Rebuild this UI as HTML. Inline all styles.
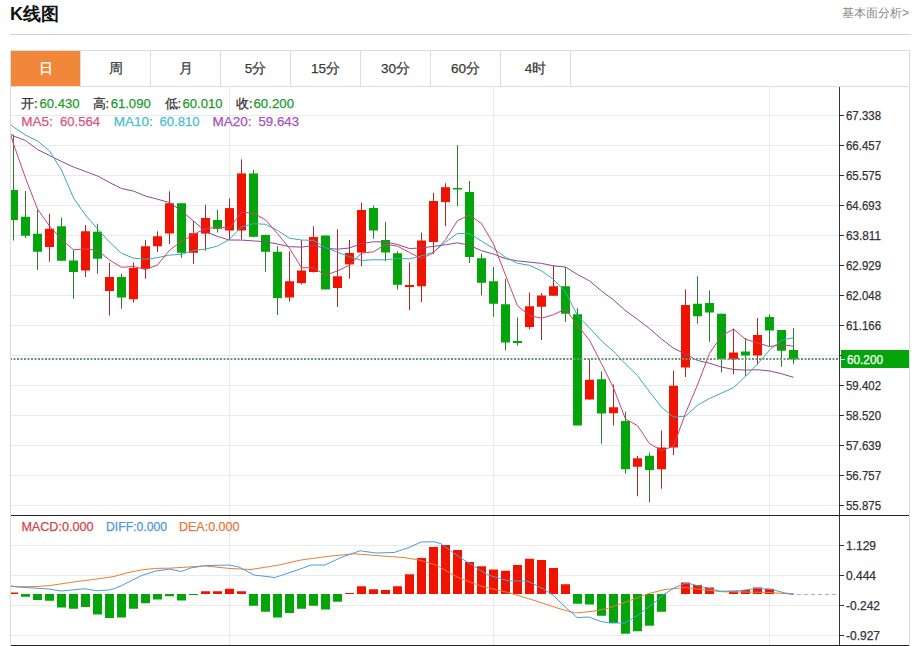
<!DOCTYPE html>
<html><head><meta charset="utf-8"><style>
html,body{margin:0;padding:0;background:#fff;width:917px;height:646px;overflow:hidden}
body{position:relative;font-family:"Liberation Sans",sans-serif}
.title{position:absolute;left:10px;top:2px;font-size:18px;font-weight:bold;color:#111;line-height:24px}
.link{position:absolute;right:8px;top:4px;font-size:12px;color:#888;line-height:18px}
svg{position:absolute;left:0;top:0}
svg text{font-family:"Liberation Sans",sans-serif}
</style></head><body>
<div class="title">K线图</div>
<div class="link">基本面分析&gt;</div>
<svg width="917" height="646" viewBox="0 0 917 646" shape-rendering="auto">
<rect x="10" y="34" width="901" height="1" fill="#d0d0d0"/>
<rect x="10.5" y="50.5" width="899" height="595" fill="none" stroke="#dcdcdc" stroke-width="1"/>
<rect x="11" y="86" width="898" height="1" fill="#dcdcdc"/>
<rect x="11" y="51" width="70" height="35" fill="#f0873a"/>
<rect x="80" y="51" width="1" height="35" fill="#dcdcdc"/>
<rect x="150" y="51" width="1" height="35" fill="#dcdcdc"/>
<rect x="220" y="51" width="1" height="35" fill="#dcdcdc"/>
<rect x="290" y="51" width="1" height="35" fill="#dcdcdc"/>
<rect x="360" y="51" width="1" height="35" fill="#dcdcdc"/>
<rect x="430" y="51" width="1" height="35" fill="#dcdcdc"/>
<rect x="500" y="51" width="1" height="35" fill="#dcdcdc"/>
<rect x="570" y="51" width="1" height="35" fill="#dcdcdc"/>
<text stroke="#ffffff" stroke-width="0.25" x="45.5" y="73.3" text-anchor="middle" font-size="13.5" fill="#ffffff">日</text>
<text stroke="#3a3a3a" stroke-width="0.25" x="115.5" y="73.3" text-anchor="middle" font-size="13.5" fill="#3a3a3a">周</text>
<text stroke="#3a3a3a" stroke-width="0.25" x="185.5" y="73.3" text-anchor="middle" font-size="13.5" fill="#3a3a3a">月</text>
<text stroke="#3a3a3a" stroke-width="0.25" x="255.5" y="73.3" text-anchor="middle" font-size="13.5" fill="#3a3a3a">5分</text>
<text stroke="#3a3a3a" stroke-width="0.25" x="325.5" y="73.3" text-anchor="middle" font-size="13.5" fill="#3a3a3a">15分</text>
<text stroke="#3a3a3a" stroke-width="0.25" x="395.5" y="73.3" text-anchor="middle" font-size="13.5" fill="#3a3a3a">30分</text>
<text stroke="#3a3a3a" stroke-width="0.25" x="465.5" y="73.3" text-anchor="middle" font-size="13.5" fill="#3a3a3a">60分</text>
<text stroke="#3a3a3a" stroke-width="0.25" x="535.5" y="73.3" text-anchor="middle" font-size="13.5" fill="#3a3a3a">4时</text>
<rect x="11" y="115" width="828" height="1" fill="#e9eaec"/>
<rect x="11" y="145" width="828" height="1" fill="#e9eaec"/>
<rect x="11" y="175" width="828" height="1" fill="#e9eaec"/>
<rect x="11" y="205" width="828" height="1" fill="#e9eaec"/>
<rect x="11" y="235" width="828" height="1" fill="#e9eaec"/>
<rect x="11" y="265" width="828" height="1" fill="#e9eaec"/>
<rect x="11" y="295" width="828" height="1" fill="#e9eaec"/>
<rect x="11" y="325" width="828" height="1" fill="#e9eaec"/>
<rect x="11" y="355" width="828" height="1" fill="#e9eaec"/>
<rect x="11" y="385" width="828" height="1" fill="#e9eaec"/>
<rect x="11" y="415" width="828" height="1" fill="#e9eaec"/>
<rect x="11" y="445" width="828" height="1" fill="#e9eaec"/>
<rect x="11" y="475" width="828" height="1" fill="#e9eaec"/>
<rect x="11" y="505" width="828" height="1" fill="#e9eaec"/>
<rect x="229" y="87" width="1" height="558" fill="#e9eaec"/>
<rect x="493" y="87" width="1" height="558" fill="#e9eaec"/>
<rect x="769" y="87" width="1" height="558" fill="#e9eaec"/>
<rect x="11" y="545" width="828" height="1" fill="#e9eaec"/>
<rect x="11" y="575" width="828" height="1" fill="#e9eaec"/>
<rect x="11" y="605" width="828" height="1" fill="#e9eaec"/>
<rect x="11" y="635" width="828" height="1" fill="#e9eaec"/>
<defs><clipPath id="cm"><rect x="11" y="87" width="828" height="428"/></clipPath><clipPath id="cd"><rect x="11" y="516" width="828" height="129"/></clipPath></defs>
<g clip-path="url(#cm)">
<rect x="13" y="134.75" width="1" height="105.75" fill="#2f7a30"/>
<rect x="9" y="190.00" width="9" height="30.00" fill="#03a50b"/>
<rect x="25" y="191.00" width="1" height="47.00" fill="#2f7a30"/>
<rect x="21" y="216.75" width="9" height="19.00" fill="#03a50b"/>
<rect x="37" y="210.00" width="1" height="60.00" fill="#2f7a30"/>
<rect x="33" y="233.75" width="9" height="18.00" fill="#03a50b"/>
<rect x="49" y="213.75" width="1" height="48.00" fill="#a42c26"/>
<rect x="45" y="228.75" width="9" height="18.25" fill="#f01400"/>
<rect x="61" y="217.50" width="1" height="43.25" fill="#2f7a30"/>
<rect x="57" y="226.25" width="9" height="34.50" fill="#03a50b"/>
<rect x="73" y="250.00" width="1" height="48.75" fill="#2f7a30"/>
<rect x="69" y="260.50" width="9" height="11.50" fill="#03a50b"/>
<rect x="85" y="225.00" width="1" height="52.00" fill="#a42c26"/>
<rect x="81" y="231.25" width="9" height="39.25" fill="#f01400"/>
<rect x="97" y="223.75" width="1" height="50.00" fill="#2f7a30"/>
<rect x="93" y="231.75" width="9" height="27.00" fill="#03a50b"/>
<rect x="109" y="262.50" width="1" height="53.00" fill="#a42c26"/>
<rect x="105" y="277.00" width="9" height="14.00" fill="#f01400"/>
<rect x="121" y="273.75" width="1" height="35.00" fill="#2f7a30"/>
<rect x="117" y="277.00" width="9" height="20.50" fill="#03a50b"/>
<rect x="133" y="262.50" width="1" height="40.00" fill="#a42c26"/>
<rect x="129" y="268.00" width="9" height="31.25" fill="#f01400"/>
<rect x="145" y="240.00" width="1" height="38.75" fill="#a42c26"/>
<rect x="141" y="246.25" width="9" height="22.50" fill="#f01400"/>
<rect x="157" y="231.25" width="1" height="20.75" fill="#a42c26"/>
<rect x="153" y="236.25" width="9" height="10.00" fill="#f01400"/>
<rect x="169" y="191.25" width="1" height="53.05" fill="#a42c26"/>
<rect x="165" y="203.25" width="9" height="30.25" fill="#f01400"/>
<rect x="181" y="203.25" width="1" height="54.55" fill="#2f7a30"/>
<rect x="177" y="203.25" width="9" height="49.55" fill="#03a50b"/>
<rect x="193" y="221.00" width="1" height="42.80" fill="#a42c26"/>
<rect x="189" y="233.20" width="9" height="19.60" fill="#f01400"/>
<rect x="205" y="204.80" width="1" height="45.90" fill="#a42c26"/>
<rect x="201" y="218.00" width="9" height="15.60" fill="#f01400"/>
<rect x="217" y="209.80" width="1" height="22.80" fill="#2f7a30"/>
<rect x="213" y="220.00" width="9" height="8.90" fill="#03a50b"/>
<rect x="229" y="198.50" width="1" height="41.40" fill="#a42c26"/>
<rect x="225" y="208.10" width="9" height="22.40" fill="#f01400"/>
<rect x="241" y="159.30" width="1" height="80.20" fill="#a42c26"/>
<rect x="237" y="173.40" width="9" height="57.10" fill="#f01400"/>
<rect x="253" y="169.90" width="1" height="67.50" fill="#2f7a30"/>
<rect x="249" y="173.40" width="9" height="63.40" fill="#03a50b"/>
<rect x="265" y="234.50" width="1" height="37.30" fill="#2f7a30"/>
<rect x="261" y="235.00" width="9" height="16.80" fill="#03a50b"/>
<rect x="277" y="246.25" width="1" height="68.75" fill="#2f7a30"/>
<rect x="273" y="251.75" width="9" height="46.35" fill="#03a50b"/>
<rect x="289" y="251.25" width="1" height="50.50" fill="#a42c26"/>
<rect x="285" y="281.25" width="9" height="16.25" fill="#f01400"/>
<rect x="301" y="240.00" width="1" height="44.30" fill="#a42c26"/>
<rect x="297" y="270.50" width="9" height="12.60" fill="#f01400"/>
<rect x="313" y="226.25" width="1" height="46.25" fill="#a42c26"/>
<rect x="309" y="237.00" width="9" height="35.00" fill="#f01400"/>
<rect x="325" y="235.50" width="1" height="53.90" fill="#2f7a30"/>
<rect x="321" y="235.50" width="9" height="53.90" fill="#03a50b"/>
<rect x="337" y="229.25" width="1" height="77.75" fill="#a42c26"/>
<rect x="333" y="276.25" width="9" height="11.75" fill="#f01400"/>
<rect x="349" y="240.00" width="1" height="38.75" fill="#a42c26"/>
<rect x="345" y="253.00" width="9" height="11.40" fill="#f01400"/>
<rect x="361" y="202.50" width="1" height="63.75" fill="#a42c26"/>
<rect x="357" y="210.00" width="9" height="42.50" fill="#f01400"/>
<rect x="373" y="205.50" width="1" height="33.25" fill="#2f7a30"/>
<rect x="369" y="208.00" width="9" height="22.50" fill="#03a50b"/>
<rect x="385" y="221.75" width="1" height="39.50" fill="#2f7a30"/>
<rect x="381" y="240.00" width="9" height="12.50" fill="#03a50b"/>
<rect x="397" y="251.25" width="1" height="38.25" fill="#2f7a30"/>
<rect x="393" y="253.25" width="9" height="31.55" fill="#03a50b"/>
<rect x="409" y="262.50" width="1" height="47.50" fill="#a42c26"/>
<rect x="405" y="285.00" width="9" height="2.00" fill="#f01400"/>
<rect x="421" y="232.50" width="1" height="69.50" fill="#a42c26"/>
<rect x="417" y="240.50" width="9" height="45.75" fill="#f01400"/>
<rect x="433" y="192.80" width="1" height="60.95" fill="#a42c26"/>
<rect x="429" y="201.00" width="9" height="41.00" fill="#f01400"/>
<rect x="445" y="183.20" width="1" height="43.05" fill="#a42c26"/>
<rect x="441" y="187.20" width="9" height="14.90" fill="#f01400"/>
<rect x="457" y="145.20" width="1" height="60.90" fill="#2f7a30"/>
<rect x="453" y="188.00" width="9" height="1.50" fill="#03a50b"/>
<rect x="469" y="181.00" width="1" height="82.00" fill="#2f7a30"/>
<rect x="465" y="192.00" width="9" height="65.00" fill="#03a50b"/>
<rect x="481" y="253.75" width="1" height="41.75" fill="#2f7a30"/>
<rect x="477" y="258.25" width="9" height="24.55" fill="#03a50b"/>
<rect x="493" y="267.00" width="1" height="49.75" fill="#2f7a30"/>
<rect x="489" y="281.25" width="9" height="22.50" fill="#03a50b"/>
<rect x="505" y="278.75" width="1" height="71.75" fill="#2f7a30"/>
<rect x="501" y="304.25" width="9" height="38.25" fill="#03a50b"/>
<rect x="517" y="317.50" width="1" height="28.00" fill="#2f7a30"/>
<rect x="513" y="341.00" width="9" height="2.00" fill="#03a50b"/>
<rect x="529" y="292.50" width="1" height="36.75" fill="#a42c26"/>
<rect x="525" y="306.25" width="9" height="20.75" fill="#f01400"/>
<rect x="541" y="293.00" width="1" height="47.00" fill="#a42c26"/>
<rect x="537" y="295.50" width="9" height="11.25" fill="#f01400"/>
<rect x="553" y="265.50" width="1" height="30.25" fill="#a42c26"/>
<rect x="549" y="286.25" width="9" height="9.50" fill="#f01400"/>
<rect x="565" y="267.00" width="1" height="55.00" fill="#2f7a30"/>
<rect x="561" y="286.25" width="9" height="27.50" fill="#03a50b"/>
<rect x="577" y="308.25" width="1" height="117.25" fill="#2f7a30"/>
<rect x="573" y="314.25" width="9" height="111.25" fill="#03a50b"/>
<rect x="589" y="358.75" width="1" height="40.75" fill="#a42c26"/>
<rect x="585" y="379.75" width="9" height="19.75" fill="#f01400"/>
<rect x="601" y="371.25" width="1" height="72.50" fill="#2f7a30"/>
<rect x="597" y="379.25" width="9" height="34.25" fill="#03a50b"/>
<rect x="613" y="384.50" width="1" height="41.00" fill="#a42c26"/>
<rect x="609" y="407.25" width="9" height="6.00" fill="#f01400"/>
<rect x="625" y="411.75" width="1" height="62.00" fill="#2f7a30"/>
<rect x="621" y="421.00" width="9" height="48.25" fill="#03a50b"/>
<rect x="637" y="455.75" width="1" height="40.50" fill="#a42c26"/>
<rect x="633" y="458.25" width="9" height="8.50" fill="#f01400"/>
<rect x="649" y="452.50" width="1" height="50.00" fill="#2f7a30"/>
<rect x="645" y="455.75" width="9" height="14.25" fill="#03a50b"/>
<rect x="661" y="430.50" width="1" height="58.25" fill="#a42c26"/>
<rect x="657" y="447.50" width="9" height="21.75" fill="#f01400"/>
<rect x="673" y="370.50" width="1" height="84.50" fill="#a42c26"/>
<rect x="669" y="385.75" width="9" height="61.75" fill="#f01400"/>
<rect x="685" y="289.50" width="1" height="87.50" fill="#a42c26"/>
<rect x="681" y="305.00" width="9" height="62.50" fill="#f01400"/>
<rect x="697" y="276.25" width="1" height="47.50" fill="#2f7a30"/>
<rect x="693" y="303.75" width="9" height="12.50" fill="#03a50b"/>
<rect x="709" y="290.50" width="1" height="51.25" fill="#2f7a30"/>
<rect x="705" y="303.00" width="9" height="9.50" fill="#03a50b"/>
<rect x="721" y="313.75" width="1" height="58.75" fill="#2f7a30"/>
<rect x="717" y="313.75" width="9" height="45.50" fill="#03a50b"/>
<rect x="733" y="328.75" width="1" height="45.50" fill="#a42c26"/>
<rect x="729" y="352.50" width="9" height="6.75" fill="#f01400"/>
<rect x="745" y="338.00" width="1" height="38.25" fill="#2f7a30"/>
<rect x="741" y="351.50" width="9" height="4.00" fill="#03a50b"/>
<rect x="757" y="318.00" width="1" height="46.50" fill="#a42c26"/>
<rect x="753" y="335.00" width="9" height="20.50" fill="#f01400"/>
<rect x="769" y="314.50" width="1" height="32.50" fill="#2f7a30"/>
<rect x="765" y="317.00" width="9" height="13.50" fill="#03a50b"/>
<rect x="781" y="330.00" width="1" height="36.75" fill="#2f7a30"/>
<rect x="777" y="330.00" width="9" height="20.75" fill="#03a50b"/>
<rect x="793" y="328.25" width="1" height="36.00" fill="#2f7a30"/>
<rect x="789" y="350.00" width="9" height="9.25" fill="#03a50b"/>
<polyline points="1.50,127.00 13.50,136.00 25.50,140.50 37.50,149.50 49.50,155.50 61.50,161.50 73.50,167.00 85.50,171.50 97.50,176.00 109.50,182.50 121.50,188.50 133.50,191.10 145.50,196.10 157.50,199.20 169.50,202.60 181.50,211.00 193.50,221.00 205.50,231.50 217.50,236.50 229.50,240.00 241.50,240.08 253.50,240.92 265.50,241.72 277.50,244.04 289.50,246.67 301.50,247.16 313.50,245.41 325.50,248.31 337.50,249.19 349.50,247.99 361.50,243.61 373.50,241.74 385.50,242.05 397.50,244.48 409.50,248.56 421.50,247.95 433.50,246.34 445.50,244.80 457.50,242.83 469.50,245.28 481.50,250.74 493.50,254.09 505.50,258.63 517.50,260.87 529.50,262.12 541.50,263.37 553.50,265.83 565.50,267.05 577.50,274.51 589.50,280.85 601.50,291.03 613.50,299.87 625.50,310.70 637.50,319.38 649.50,328.62 661.50,338.98 673.50,348.21 685.50,354.10 697.50,360.44 709.50,363.22 721.50,367.04 733.50,369.48 745.50,370.12 757.50,369.73 769.50,370.94 781.50,373.70 793.50,377.35" fill="none" stroke="#8a4a92" stroke-width="1" stroke-linejoin="round"/>
<polyline points="1.50,117.00 13.50,127.00 25.50,135.00 37.50,141.00 49.50,151.00 61.50,170.00 73.50,198.00 85.50,215.00 97.50,229.00 109.50,242.00 121.50,253.35 133.50,258.15 145.50,259.20 157.50,257.65 169.50,255.10 181.50,254.31 193.50,250.43 205.50,249.10 217.50,246.12 229.50,239.22 241.50,226.81 253.50,223.69 265.50,224.25 277.50,230.44 289.50,238.23 301.50,240.01 313.50,240.38 325.50,247.53 337.50,252.26 349.50,256.75 361.50,260.41 373.50,259.78 385.50,259.85 397.50,258.52 409.50,258.89 421.50,255.89 433.50,252.29 445.50,242.07 457.50,233.40 469.50,233.80 481.50,241.08 493.50,248.41 505.50,257.41 517.50,263.23 529.50,265.35 541.50,270.85 553.50,279.38 565.50,292.03 577.50,315.63 589.50,327.91 601.50,340.98 613.50,351.32 625.50,364.00 637.50,375.52 649.50,391.90 661.50,407.10 673.50,417.05 685.50,416.18 697.50,405.25 709.50,398.52 721.50,393.10 733.50,387.62 745.50,376.25 757.50,363.93 769.50,349.98 781.50,340.30 793.50,337.65" fill="none" stroke="#3aaab6" stroke-width="1" stroke-linejoin="round"/>
<polyline points="1.50,104.00 13.50,144.00 25.50,178.00 37.50,209.00 49.50,226.00 61.50,239.40 73.50,249.80 85.50,248.90 97.50,250.30 109.50,259.95 121.50,267.30 133.50,266.50 145.50,269.50 157.50,265.00 169.50,250.25 181.50,241.31 193.50,234.35 205.50,228.70 217.50,227.23 229.50,228.20 241.50,212.32 253.50,213.04 265.50,219.80 277.50,233.64 289.50,248.27 301.50,267.69 313.50,267.73 325.50,275.25 337.50,270.88 349.50,265.23 361.50,253.13 373.50,251.83 385.50,244.45 397.50,246.16 409.50,252.56 421.50,258.66 433.50,252.76 445.50,239.70 457.50,220.64 469.50,215.04 481.50,223.50 493.50,244.05 505.50,275.11 517.50,305.81 529.50,315.66 541.50,318.20 553.50,314.70 565.50,308.95 577.50,325.45 589.50,340.15 601.50,363.75 613.50,387.95 625.50,419.05 637.50,425.60 649.50,443.65 661.50,450.45 673.50,446.15 685.50,413.30 697.50,384.90 709.50,353.40 721.50,335.75 733.50,329.10 745.50,339.20 757.50,342.95 769.50,346.55 781.50,344.85 793.50,346.20" fill="none" stroke="#c94470" stroke-width="1" stroke-linejoin="round"/>
<line x1="11" y1="359" x2="839" y2="359" stroke="#6f9577" stroke-width="2" stroke-dasharray="2 1.5" stroke-dashoffset="1"/>
</g>
<g clip-path="url(#cd)">
<line x1="790" y1="594.5" x2="839" y2="594.5" stroke="#9ab8d0" stroke-width="1" stroke-dasharray="4 3"/>
<rect x="9" y="592.50" width="9" height="1.50" fill="#f01400"/>
<rect x="21" y="594" width="9" height="2.75" fill="#03a50b"/>
<rect x="33" y="594" width="9" height="6.00" fill="#03a50b"/>
<rect x="45" y="594" width="9" height="6.75" fill="#03a50b"/>
<rect x="57" y="594" width="9" height="13.50" fill="#03a50b"/>
<rect x="69" y="594" width="9" height="14.75" fill="#03a50b"/>
<rect x="81" y="594" width="9" height="13.00" fill="#03a50b"/>
<rect x="93" y="594" width="9" height="20.50" fill="#03a50b"/>
<rect x="105" y="594" width="9" height="24.00" fill="#03a50b"/>
<rect x="117" y="594" width="9" height="23.50" fill="#03a50b"/>
<rect x="129" y="594" width="9" height="14.75" fill="#03a50b"/>
<rect x="141" y="594" width="9" height="9.25" fill="#03a50b"/>
<rect x="153" y="594" width="9" height="5.50" fill="#03a50b"/>
<rect x="165" y="594" width="9" height="2.25" fill="#03a50b"/>
<rect x="177" y="594" width="9" height="6.50" fill="#03a50b"/>
<rect x="189" y="594" width="9" height="1.00" fill="#03a50b"/>
<rect x="201" y="591.25" width="9" height="2.75" fill="#f01400"/>
<rect x="213" y="591.25" width="9" height="2.75" fill="#f01400"/>
<rect x="225" y="588.75" width="9" height="5.25" fill="#f01400"/>
<rect x="237" y="591.25" width="9" height="2.75" fill="#f01400"/>
<rect x="249" y="594" width="9" height="11.75" fill="#03a50b"/>
<rect x="261" y="594" width="9" height="17.75" fill="#03a50b"/>
<rect x="273" y="594" width="9" height="23.50" fill="#03a50b"/>
<rect x="285" y="594" width="9" height="19.00" fill="#03a50b"/>
<rect x="297" y="594" width="9" height="14.75" fill="#03a50b"/>
<rect x="309" y="594" width="9" height="11.75" fill="#03a50b"/>
<rect x="321" y="594" width="9" height="15.50" fill="#03a50b"/>
<rect x="333" y="594" width="9" height="7.75" fill="#03a50b"/>
<rect x="345" y="593.00" width="9" height="1.00" fill="#f01400"/>
<rect x="357" y="586.25" width="9" height="7.75" fill="#f01400"/>
<rect x="369" y="589.25" width="9" height="4.75" fill="#f01400"/>
<rect x="381" y="590.00" width="9" height="4.00" fill="#f01400"/>
<rect x="393" y="586.25" width="9" height="7.75" fill="#f01400"/>
<rect x="405" y="574.25" width="9" height="19.75" fill="#f01400"/>
<rect x="417" y="558.00" width="9" height="36.00" fill="#f01400"/>
<rect x="429" y="547.00" width="9" height="47.00" fill="#f01400"/>
<rect x="441" y="545.00" width="9" height="49.00" fill="#f01400"/>
<rect x="453" y="550.00" width="9" height="44.00" fill="#f01400"/>
<rect x="465" y="562.00" width="9" height="32.00" fill="#f01400"/>
<rect x="477" y="566.25" width="9" height="27.75" fill="#f01400"/>
<rect x="489" y="569.50" width="9" height="24.50" fill="#f01400"/>
<rect x="501" y="570.75" width="9" height="23.25" fill="#f01400"/>
<rect x="513" y="565.00" width="9" height="29.00" fill="#f01400"/>
<rect x="525" y="558.75" width="9" height="35.25" fill="#f01400"/>
<rect x="537" y="560.00" width="9" height="34.00" fill="#f01400"/>
<rect x="549" y="568.00" width="9" height="26.00" fill="#f01400"/>
<rect x="561" y="584.25" width="9" height="9.75" fill="#f01400"/>
<rect x="573" y="594" width="9" height="9.75" fill="#03a50b"/>
<rect x="585" y="594" width="9" height="10.50" fill="#03a50b"/>
<rect x="597" y="594" width="9" height="21.75" fill="#03a50b"/>
<rect x="609" y="594" width="9" height="29.00" fill="#03a50b"/>
<rect x="621" y="594" width="9" height="39.75" fill="#03a50b"/>
<rect x="633" y="594" width="9" height="37.25" fill="#03a50b"/>
<rect x="645" y="594" width="9" height="31.75" fill="#03a50b"/>
<rect x="657" y="594" width="9" height="17.75" fill="#03a50b"/>
<rect x="681" y="582.50" width="9" height="11.50" fill="#f01400"/>
<rect x="693" y="585.00" width="9" height="9.00" fill="#f01400"/>
<rect x="705" y="587.50" width="9" height="6.50" fill="#f01400"/>
<rect x="729" y="591.25" width="9" height="2.75" fill="#f01400"/>
<rect x="741" y="590.00" width="9" height="4.00" fill="#f01400"/>
<rect x="753" y="587.50" width="9" height="6.50" fill="#f01400"/>
<rect x="765" y="588.75" width="9" height="5.25" fill="#f01400"/>
<polyline points="0.00,584.50 18.00,586.80 37.00,586.50 50.00,585.50 75.00,581.80 97.00,579.00 114.00,576.50 128.00,572.60 141.90,569.80 155.80,568.40 169.70,568.20 183.70,567.30 197.60,566.40 204.60,565.90 229.00,568.40 251.00,569.50 279.00,565.00 301.00,560.00 329.00,556.25 354.00,553.75 379.00,555.75 404.00,557.50 419.00,560.00 436.00,565.00 458.00,577.50 483.00,586.75 508.00,592.50 533.00,600.00 558.00,608.25 575.00,613.00 593.00,611.25 608.00,608.25 628.00,601.25 648.00,593.75 665.00,589.50 685.00,587.50 705.00,590.00 722.00,591.75 745.00,592.00 770.00,592.50 794.00,594.25" fill="none" stroke="#ee7d33" stroke-width="1" stroke-linejoin="round"/>
<polyline points="0.00,585.50 25.00,587.50 49.00,589.00 61.00,591.00 85.00,588.75 97.00,590.75 109.00,590.00 114.00,588.70 121.00,585.90 141.90,575.40 155.80,571.00 169.70,569.10 180.90,571.50 190.70,568.00 204.60,565.70 229.00,565.00 239.00,567.00 254.00,575.00 275.00,577.50 301.00,568.75 311.00,565.00 325.00,565.00 341.00,557.50 360.00,550.75 376.00,553.00 394.00,552.50 409.00,547.50 421.00,542.00 434.00,541.75 441.00,543.75 458.00,556.25 470.00,563.75 488.00,575.00 508.00,580.75 528.00,581.25 543.00,588.75 553.00,595.00 563.00,605.00 577.00,617.50 589.00,617.00 600.00,621.25 610.00,623.00 625.00,623.00 638.00,615.00 653.00,603.75 665.00,593.75 675.00,587.50 685.00,583.25 690.00,583.75 705.00,587.50 720.00,591.25 740.00,590.75 757.00,588.30 772.00,589.50 785.00,593.00 794.00,594.00" fill="none" stroke="#4d9be0" stroke-width="1" stroke-linejoin="round"/>
</g>
<rect x="11" y="515" width="898" height="1" fill="#222"/>
<rect x="839" y="87" width="1" height="558" fill="#333"/>
<rect x="11" y="645" width="898" height="1" fill="#222"/>
<rect x="839" y="115" width="5" height="1" fill="#333"/>
<text stroke="#333" stroke-width="0.25" x="846" y="119.5" font-size="12" fill="#333" textLength="35" lengthAdjust="spacingAndGlyphs">67.338</text>
<rect x="839" y="145" width="5" height="1" fill="#333"/>
<text stroke="#333" stroke-width="0.25" x="846" y="149.5" font-size="12" fill="#333" textLength="35" lengthAdjust="spacingAndGlyphs">66.457</text>
<rect x="839" y="175" width="5" height="1" fill="#333"/>
<text stroke="#333" stroke-width="0.25" x="846" y="179.5" font-size="12" fill="#333" textLength="35" lengthAdjust="spacingAndGlyphs">65.575</text>
<rect x="839" y="205" width="5" height="1" fill="#333"/>
<text stroke="#333" stroke-width="0.25" x="846" y="209.5" font-size="12" fill="#333" textLength="35" lengthAdjust="spacingAndGlyphs">64.693</text>
<rect x="839" y="235" width="5" height="1" fill="#333"/>
<text stroke="#333" stroke-width="0.25" x="846" y="239.5" font-size="12" fill="#333" textLength="35" lengthAdjust="spacingAndGlyphs">63.811</text>
<rect x="839" y="265" width="5" height="1" fill="#333"/>
<text stroke="#333" stroke-width="0.25" x="846" y="269.5" font-size="12" fill="#333" textLength="35" lengthAdjust="spacingAndGlyphs">62.929</text>
<rect x="839" y="295" width="5" height="1" fill="#333"/>
<text stroke="#333" stroke-width="0.25" x="846" y="299.5" font-size="12" fill="#333" textLength="35" lengthAdjust="spacingAndGlyphs">62.048</text>
<rect x="839" y="325" width="5" height="1" fill="#333"/>
<text stroke="#333" stroke-width="0.25" x="846" y="329.5" font-size="12" fill="#333" textLength="35" lengthAdjust="spacingAndGlyphs">61.166</text>
<rect x="839" y="355" width="5" height="1" fill="#333"/>
<rect x="839" y="385" width="5" height="1" fill="#333"/>
<text stroke="#333" stroke-width="0.25" x="846" y="389.5" font-size="12" fill="#333" textLength="35" lengthAdjust="spacingAndGlyphs">59.402</text>
<rect x="839" y="415" width="5" height="1" fill="#333"/>
<text stroke="#333" stroke-width="0.25" x="846" y="419.5" font-size="12" fill="#333" textLength="35" lengthAdjust="spacingAndGlyphs">58.520</text>
<rect x="839" y="445" width="5" height="1" fill="#333"/>
<text stroke="#333" stroke-width="0.25" x="846" y="449.5" font-size="12" fill="#333" textLength="35" lengthAdjust="spacingAndGlyphs">57.639</text>
<rect x="839" y="475" width="5" height="1" fill="#333"/>
<text stroke="#333" stroke-width="0.25" x="846" y="479.5" font-size="12" fill="#333" textLength="35" lengthAdjust="spacingAndGlyphs">56.757</text>
<rect x="839" y="505" width="5" height="1" fill="#333"/>
<text stroke="#333" stroke-width="0.25" x="846" y="509.5" font-size="12" fill="#333" textLength="35" lengthAdjust="spacingAndGlyphs">55.875</text>
<rect x="839" y="545" width="5" height="1" fill="#333"/>
<text stroke="#333" stroke-width="0.25" x="846" y="549.5" font-size="12" fill="#333">1.129</text>
<rect x="839" y="575" width="5" height="1" fill="#333"/>
<text stroke="#333" stroke-width="0.25" x="846" y="579.5" font-size="12" fill="#333">0.444</text>
<rect x="839" y="605" width="5" height="1" fill="#333"/>
<text stroke="#333" stroke-width="0.25" x="846" y="609.5" font-size="12" fill="#333">-0.242</text>
<rect x="839" y="635" width="5" height="1" fill="#333"/>
<text stroke="#333" stroke-width="0.25" x="846" y="639.5" font-size="12" fill="#333">-0.927</text>
<rect x="841" y="350" width="68" height="18" fill="#03a50b"/>
<rect x="840" y="359" width="5" height="1" fill="#ffffff"/>
<text stroke="#fff" stroke-width="0.25" x="847" y="363.5" font-size="12" fill="#fff" textLength="36" lengthAdjust="spacingAndGlyphs">60.200</text>
<text stroke="#333" stroke-width="0.25" x="21" y="108" font-size="13" fill="#333">开:</text>
<text stroke="#1e9a2a" stroke-width="0.25" x="39.5" y="108" font-size="13" fill="#1e9a2a" textLength="40" lengthAdjust="spacingAndGlyphs">60.430</text>
<text stroke="#333" stroke-width="0.25" x="92.5" y="108" font-size="13" fill="#333">高:</text>
<text stroke="#1e9a2a" stroke-width="0.25" x="110.7" y="108" font-size="13" fill="#1e9a2a" textLength="40" lengthAdjust="spacingAndGlyphs">61.090</text>
<text stroke="#333" stroke-width="0.25" x="164.5" y="108" font-size="13" fill="#333">低:</text>
<text stroke="#1e9a2a" stroke-width="0.25" x="182.5" y="108" font-size="13" fill="#1e9a2a" textLength="40" lengthAdjust="spacingAndGlyphs">60.010</text>
<text stroke="#333" stroke-width="0.25" x="236" y="108" font-size="13" fill="#333">收:</text>
<text stroke="#1e9a2a" stroke-width="0.25" x="253.5" y="108" font-size="13" fill="#1e9a2a" textLength="40.5" lengthAdjust="spacingAndGlyphs">60.200</text>
<text stroke="#d9557e" stroke-width="0.25" x="21.3" y="126" font-size="13" fill="#d9557e" textLength="31.5" lengthAdjust="spacingAndGlyphs">MA5:</text>
<text stroke="#d9557e" stroke-width="0.25" x="60" y="126" font-size="13" fill="#d9557e" textLength="40" lengthAdjust="spacingAndGlyphs">60.564</text>
<text stroke="#45c0d2" stroke-width="0.25" x="113.8" y="126" font-size="13" fill="#45c0d2" textLength="39" lengthAdjust="spacingAndGlyphs">MA10:</text>
<text stroke="#45c0d2" stroke-width="0.25" x="159.5" y="126" font-size="13" fill="#45c0d2" textLength="40" lengthAdjust="spacingAndGlyphs">60.810</text>
<text stroke="#a651c0" stroke-width="0.25" x="212.5" y="126" font-size="13" fill="#a651c0" textLength="39" lengthAdjust="spacingAndGlyphs">MA20:</text>
<text stroke="#a651c0" stroke-width="0.25" x="258.5" y="126" font-size="13" fill="#a651c0" textLength="40.5" lengthAdjust="spacingAndGlyphs">59.643</text>
<text stroke="#d24646" stroke-width="0.25" x="21.4" y="531" font-size="12.5" fill="#d24646" textLength="72" lengthAdjust="spacingAndGlyphs">MACD:0.000</text>
<text stroke="#5096dc" stroke-width="0.25" x="106" y="531" font-size="12.5" fill="#5096dc" textLength="61" lengthAdjust="spacingAndGlyphs">DIFF:0.000</text>
<text stroke="#e6783c" stroke-width="0.25" x="179" y="531" font-size="12.5" fill="#e6783c" textLength="60.5" lengthAdjust="spacingAndGlyphs">DEA:0.000</text>
</svg>
</body></html>
